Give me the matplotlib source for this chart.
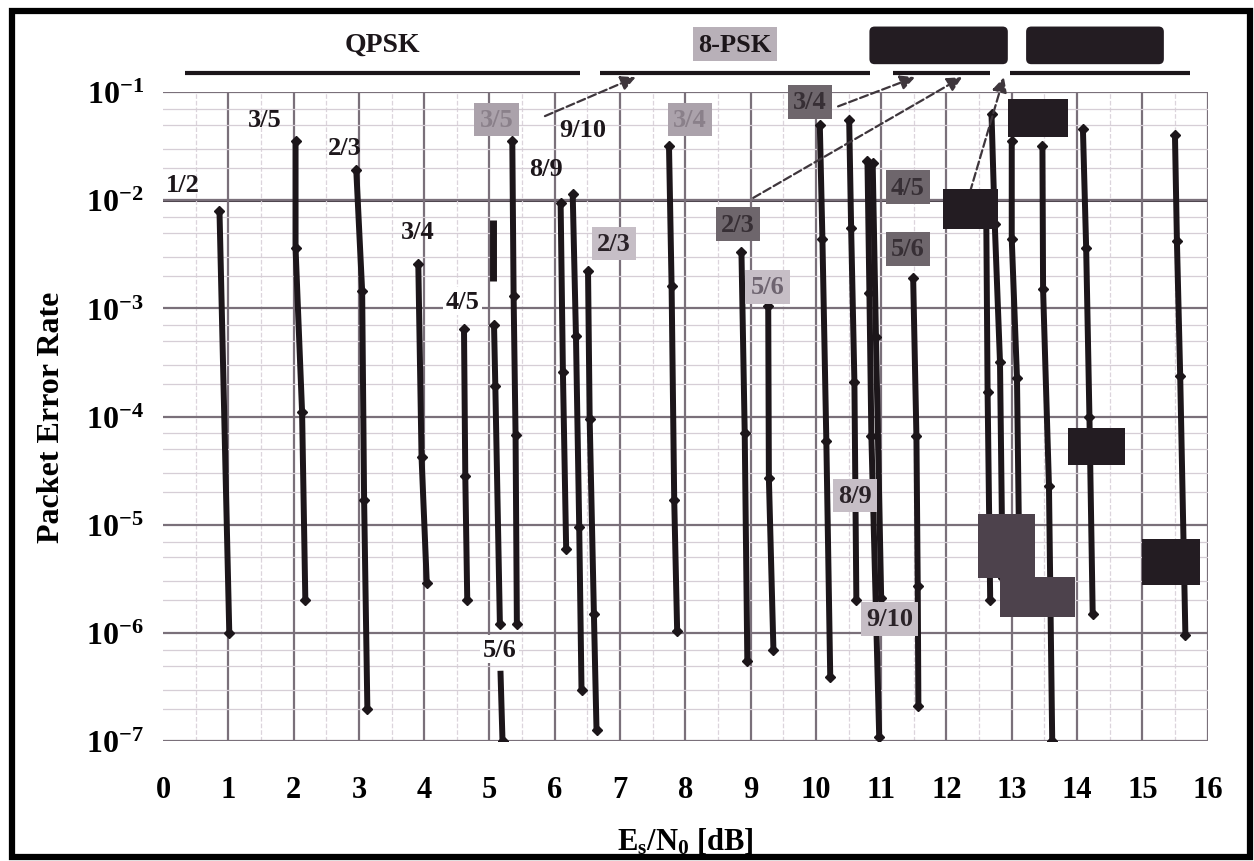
import matplotlib.pyplot as plt
from matplotlib.patches import Rectangle, FancyBboxPatch
from matplotlib.ticker import FixedLocator, NullFormatter

plt.rcParams["font.family"] = ["Liberation Serif", "DejaVu Serif"]
plt.rcParams["font.weight"] = "bold"
plt.rcParams["mathtext.fontset"] = "custom"
plt.rcParams["mathtext.rm"] = "Liberation Serif:bold"
plt.rcParams["mathtext.it"] = "Liberation Serif:bold"
plt.rcParams["mathtext.bf"] = "Liberation Serif:bold"

# Es/N0 [dB] and packet error rate, one inner list per code rate
qpsk_rates = ["1/2", "3/5", "2/3", "3/4", "4/5", "5/6", "8/9", "9/10"]
qpsk_esn0 = [
    [0.865, 1.015],
    [2.03, 2.03, 2.13, 2.18],
    [2.96, 3.05, 3.08, 3.13],
    [3.91, 3.96, 4.04],
    [4.61, 4.63, 4.66],
    [5.07, 5.09, 5.16],
    [6.09, 6.125, 6.175],
    [6.275, 6.325, 6.375, 6.41],
]
qpsk_per = [
    [7.9e-3, 1e-6],
    [3.5e-2, 3.6e-3, 1.1e-4, 2e-6],
    [1.9e-2, 1.45e-3, 1.7e-5, 2e-7],
    [2.6e-3, 4.2e-5, 2.9e-6],
    [6.5e-4, 2.8e-5, 2e-6],
    [7e-4, 1.9e-4, 1.2e-6],
    [9.5e-3, 2.6e-4, 6e-6],
    [1.15e-2, 5.6e-4, 9.5e-6, 3e-7],
]

psk8_rates = ["3/5", "2/3", "3/4", "5/6", "8/9", "9/10"]
psk8_esn0 = [
    [5.35, 5.37, 5.40, 5.42],
    [6.51, 6.535, 6.6, 6.64],
    [7.75, 7.79, 7.83, 7.875],
    [9.27, 9.28, 9.35],
    [10.51, 10.54, 10.59, 10.62],
    [10.79, 10.82, 10.85, 10.97],
]
psk8_per = [
    [3.5e-2, 1.3e-3, 6.7e-5, 1.2e-6],
    [2.2e-3, 9.5e-5, 1.5e-6, 1.26e-7],
    [3.2e-2, 1.6e-3, 1.7e-5, 1.05e-6],
    [1.05e-3, 2.7e-5, 6.9e-7],
    [5.5e-2, 5.5e-3, 2.1e-4, 2e-6],
    [2.3e-2, 1.4e-3, 6.6e-5, 1.1e-7],
]

apsk16_rates = ["2/3", "3/4", "4/5", "5/6", "8/9", "9/10"]
apsk16_esn0 = [
    [8.86, 8.91, 8.95],
    [10.06, 10.1, 10.16, 10.22],
    [10.87, 10.92, 11.0],
    [11.49, 11.54, 11.56, 11.57],
    [12.61, 12.63, 12.67],
    [12.69, 12.74, 12.82, 12.86],
]
apsk16_per = [
    [3.3e-3, 7e-5, 5.5e-7],
    [5e-2, 4.4e-3, 6e-5, 3.9e-7],
    [2.2e-2, 5.5e-4, 2.1e-6],
    [1.9e-3, 6.6e-5, 2.7e-6, 2.1e-7],
    [6.6e-3, 1.7e-4, 2e-6],
    [6.3e-2, 6e-3, 3.2e-4, 3.2e-6],
]

apsk32_rates = ["3/4", "4/5", "5/6", "8/9"]
apsk32_esn0 = [
    [13.0, 13.0, 13.08, 13.12],
    [13.47, 13.48, 13.57, 13.62],
    [14.09, 14.14, 14.19, 14.24],
    [15.5, 15.53, 15.58, 15.66],
]
apsk32_per = [
    [3.5e-2, 4.4e-3, 2.3e-4, 3e-6],
    [3.2e-2, 1.5e-3, 2.3e-5, 1e-7],
    [4.6e-2, 3.6e-3, 1e-4, 1.5e-6],
    [4e-2, 4.2e-3, 2.4e-4, 9.5e-7],
]

# loose bits of curve left over in the scan
extra_esn0 = [[5.17, 5.2], [5.05, 5.05]]
extra_per = [[4.2e-7, 1e-7], [6.6e-3, 1.8e-3]]

# modulation bars on top of the plot
group_names = ["QPSK", "8-PSK", "", ""]
group_start = [0.34, 6.69, 11.18, 12.97]
group_end = [6.39, 10.83, 12.66, 15.73]

ink = "#1c161a"

fig = plt.figure(figsize=(12.54, 8.62), dpi=100)
ax = fig.add_axes([0.130, 0.139, 0.833, 0.753])

ax.set_yscale("log")
ax.set_xlim(0, 16)
ax.set_ylim(1e-7, 1e-1)

for esn0_sets, per_sets in [
    (qpsk_esn0, qpsk_per),
    (psk8_esn0, psk8_per),
    (apsk16_esn0, apsk16_per),
    (apsk32_esn0, apsk32_per),
]:
    for x, y in zip(esn0_sets, per_sets):
        ax.plot(x, y, color=ink, lw=4.3, marker="D", ms=5.5, zorder=3,
                solid_capstyle="butt")

ax.plot(extra_esn0[0], extra_per[0], color=ink, lw=4.3, marker="D", ms=5.5,
        markevery=[1], zorder=3)
ax.plot(extra_esn0[1], extra_per[1], color=ink, lw=5, zorder=3,
        solid_capstyle="butt")

# grid
ax.xaxis.set_major_locator(FixedLocator(range(0, 17)))
ax.xaxis.set_minor_locator(FixedLocator([i + 0.5 for i in range(16)]))
ax.yaxis.set_major_locator(FixedLocator([10.0 ** e for e in range(-7, 0)]))
ax.yaxis.set_minor_locator(FixedLocator(
    [m * 10.0 ** e for e in range(-7, -1) for m in (2, 3, 5, 7)]))
ax.yaxis.set_minor_formatter(NullFormatter())
ax.grid(True, which="major", color="#7a707a", lw=1.6, zorder=0)
ax.grid(True, which="minor", axis="y", color="#d6ced6", lw=0.9, zorder=0)
ax.grid(True, which="minor", axis="x", color="#dcd4dc", lw=0.9, ls="--", zorder=0)
ax.xaxis.get_gridlines()[0].set_visible(False)
ax.axhline(1e-2, color="#4a424a", lw=2.2, zorder=1)

for s in ax.spines.values():
    s.set_visible(False)

ax.set_xticklabels([str(i) for i in range(0, 17)])
ax.set_yticklabels(["10$^{\\mathbf{%d}}$" % e for e in range(-7, 0)])
ax.tick_params(axis="both", which="both", length=0)
ax.tick_params(axis="x", labelsize=22, pad=24)
ax.tick_params(axis="y", labelsize=23, pad=14)

ax.set_xlabel("E$_\\mathbf{s}$/N$_\\mathbf{0}$ [dB]", fontsize=22,
              fontweight="bold", labelpad=16)
ax.set_ylabel("Packet Error Rate", fontsize=23, fontweight="bold", labelpad=14)

# modulation group bars and names
top = ax.get_xaxis_transform()
for name, x0, x1 in zip(group_names, group_start, group_end):
    ax.plot([x0, x1], [1.029, 1.029], color=ink, lw=3, transform=top,
            clip_on=False, solid_capstyle="butt")
ax.text((group_start[0] + group_end[0]) / 2, 1.074, group_names[0],
        transform=top, ha="center", va="center", fontsize=20, color=ink)
ax.text((group_start[1] + group_end[1]) / 2, 1.074, group_names[1],
        transform=top, ha="center", va="center", fontsize=19, color=ink,
        bbox=dict(boxstyle="square,pad=0.2", fc="#b8b0b8", ec="none"))
for x0, x1 in [(10.82, 12.94), (13.22, 15.33)]:
    ax.add_patch(FancyBboxPatch((x0, 1.043), x1 - x0, 0.058,
                                boxstyle="round,pad=0,rounding_size=0.08",
                                mutation_aspect=0.1, transform=top,
                                fc="#231c22", ec="none", clip_on=False))

# dashed arrows from rate labels up to their modulation bar
for (xa, ya), (xb, yb) in [
    ((5.85, 0.963), (7.24, 1.023)),
    ((10.34, 0.978), (11.52, 1.023)),
    ((9.04, 0.837), (12.24, 1.023)),
    ((12.36, 0.846), (12.88, 1.023)),
]:
    ax.annotate("", xy=(xb, yb), xytext=(xa, ya), xycoords=top,
                textcoords=top, annotation_clip=False,
                arrowprops=dict(arrowstyle="-|>", color="#3e363c", lw=1.6,
                                ls="--", mutation_scale=22,
                                shrinkA=0, shrinkB=0), zorder=5)

# code rate labels
styles = {
    "plain": dict(color=ink),
    "white": dict(color=ink, bbox=dict(boxstyle="square,pad=0.1", fc="white", ec="none")),
    "light": dict(color="#2a2228", bbox=dict(boxstyle="square,pad=0.2", fc="#c6bec6", ec="none")),
    "pale": dict(color="#6e6470", bbox=dict(boxstyle="square,pad=0.2", fc="#c6bec6", ec="none")),
    "faded": dict(color="#8a808a", bbox=dict(boxstyle="square,pad=0.2", fc="#aba2ab", ec="none")),
    "dark": dict(color="#372f35", bbox=dict(boxstyle="square,pad=0.2", fc="#6e666c", ec="none")),
}
labels = [
    ("1/2", 0.31, 1.41e-2, "plain"),
    ("3/5", 1.56, 5.6e-2, "plain"),
    ("2/3", 2.79, 3.1e-2, "plain"),
    ("3/4", 3.9, 5.2e-3, "plain"),
    ("4/5", 4.59, 1.17e-3, "white"),
    ("5/6", 5.16, 7.1e-7, "white"),
    ("3/5", 5.11, 5.6e-2, "faded"),
    ("8/9", 5.87, 1.95e-2, "plain"),
    ("9/10", 6.43, 4.5e-2, "plain"),
    ("2/3", 6.91, 4e-3, "light"),
    ("3/4", 8.07, 5.6e-2, "faded"),
    ("3/4", 9.91, 8.1e-2, "dark"),
    ("2/3", 8.81, 6e-3, "dark"),
    ("5/6", 9.26, 1.58e-3, "pale"),
    ("4/5", 11.41, 1.32e-2, "dark"),
    ("5/6", 11.41, 3.55e-3, "dark"),
    ("8/9", 10.6, 1.86e-5, "light"),
    ("9/10", 11.13, 1.35e-6, "light"),
]
for s, x, y, st in labels:
    ax.text(x, y, s, ha="center", va="center", fontsize=19, zorder=6,
            **styles[st])

# blacked-out boxes in the scan
for x0, x1, y0, y1 in [
    (11.94, 12.79, 5.4e-3, 1.26e-2),
    (12.94, 13.86, 3.84e-2, 8.6e-2),
    (13.86, 14.73, 3.6e-5, 7.9e-5),
    (14.99, 15.88, 2.8e-6, 7.4e-6),
]:
    ax.add_patch(Rectangle((x0, y0), x1 - x0, y1 - y0, fc="#231c22",
                           ec="none", zorder=7))
for x0, x1, y0, y1 in [
    (12.48, 13.35, 3.2e-6, 1.26e-5),
    (12.82, 13.97, 1.4e-6, 3.3e-6),
]:
    ax.add_patch(Rectangle((x0, y0), x1 - x0, y1 - y0, fc="#4d424c",
                           ec="none", zorder=7))

# thick frame round the whole picture
fig.add_artist(Rectangle((0.0096, 0.0046), 0.9872, 0.9814, fill=False,
                         ec="black", lw=4.5, transform=fig.transFigure))

fig.savefig("out.png", dpi=100)
plt.close(fig)
